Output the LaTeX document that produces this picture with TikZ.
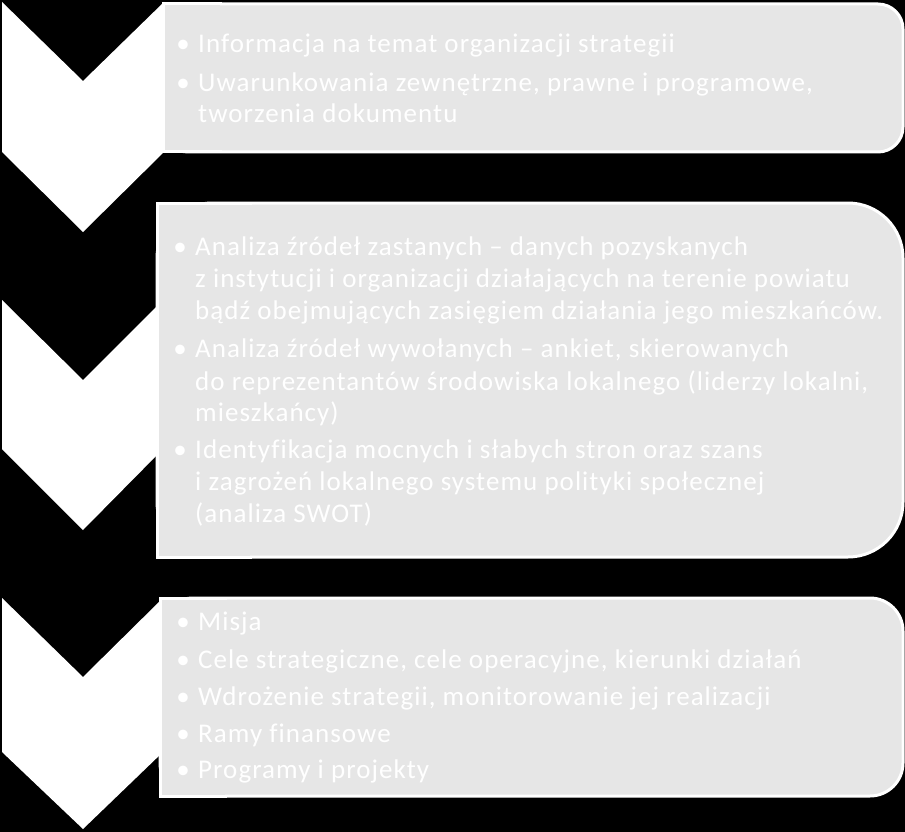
\documentclass[tikz,border=0pt]{standalone}
\usepackage{fontspec}
\setmainfont{Carlito}[LetterSpace=3.9, Ligatures=NoCommon]
\definecolor{boxgray}{HTML}{E6E6E6}
\tikzset{
  chev/.style={fill=white, draw=none},
  boxround/.style={fill=boxgray, draw=white, line width=3pt},
  boxleft/.style={fill=boxgray, draw=none},
  boxedge/.style={draw=white, line width=3pt},
  txt/.style={text=white, inner sep=0pt, anchor=base west, font=\fontsize{27}{31}\selectfont},
  bul/.style={text=white, inner sep=0pt, anchor=base, font=\fontsize{27}{31}\selectfont},
}
\begin{document}
\begin{tikzpicture}[x=1pt, y=-1pt]
\useasboundingbox (0,0) rectangle (905,832);
\fill[black] (0,0) rectangle (905,832);

% chevrons
\fill[chev] (2,2) -- (83,81) -- (164,2) -- (164,152) -- (83,232) -- (2,152) -- cycle;
\fill[chev] (2,300) -- (83,380) -- (163,300) -- (163,449) -- (83,530) -- (2,449) -- cycle;
\fill[chev] (2,598) -- (83,677) -- (163,598) -- (163,752) -- (83,829) -- (2,752) -- cycle;

% box 1
\draw[boxround, rounded corners=25pt] (163,4) rectangle (903,152);
\fill[boxleft] (163,4) rectangle (220,152);
\draw[boxedge] (222,4) -- (163,4) -- (163,152) -- (222,152);
% box 2
\draw[boxround, rounded corners=55pt] (157,203) rectangle (903,557);
\fill[boxleft] (157,203) rectangle (250,557);
\draw[boxedge] (252,203) -- (157,203) -- (157,557) -- (252,557);
% box 3
\draw[boxround, rounded corners=33pt] (160,598) rectangle (903,796);
\fill[boxleft] (160,598) rectangle (225,796);
\draw[boxedge] (227,598) -- (160,598) -- (160,796) -- (227,796);

% box 1 text
\node[bul] (b11) at (183,53) {•};
\node[txt] (t11) at (198,53) {Informacja na temat organizacji strategii};
\node[bul] (b12) at (183,92) {•};
\node[txt] (t12a) at (198,92) {Uwarunkowania zewnętrzne, prawne i programowe,};
\node[txt] (t12b) at (198,123) {tworzenia dokumentu};

% box 2 text
\node[bul] (b21) at (180,255) {•};
\node[txt] (t21a) at (195,255) {Analiza źródeł zastanych – danych pozyskanych};
\node[txt] (t21b) at (195,287) {z instytucji i organizacji działających na terenie powiatu};
\node[txt] (t21c) at (195,319) {bądź obejmujących zasięgiem działania jego mieszkańców.};
\node[bul] (b22) at (180,357) {•};
\node[txt] (t22a) at (195,357) {Analiza źródeł wywołanych – ankiet, skierowanych};
\node[txt] (t22b) at (195,390) {do reprezentantów środowiska lokalnego (liderzy lokalni,};
\node[txt] (t22c) at (195,421) {mieszkańcy)};
\node[bul] (b23) at (180,458) {•};
\node[txt] (t23a) at (195,458) {Identyfikacja mocnych i słabych stron oraz szans};
\node[txt] (t23b) at (195,490) {i zagrożeń lokalnego systemu polityki społecznej};
\node[txt] (t23c) at (195,522) {(analiza SWOT)};

% box 3 text
\node[bul] (b31) at (183,630) {•};
\node[txt] (t31) at (198,630) {Misja};
\node[bul] (b32) at (183,668) {•};
\node[txt] (t32) at (198,668) {Cele strategiczne, cele operacyjne, kierunki działań};
\node[bul] (b33) at (183,705) {•};
\node[txt] (t33) at (198,705) {Wdrożenie strategii, monitorowanie jej realizacji};
\node[bul] (b34) at (183,742) {•};
\node[txt] (t34) at (198,742) {Ramy finansowe};
\node[bul] (b35) at (183,778) {•};
\node[txt] (t35) at (198,778) {Programy i projekty};
\end{tikzpicture}
\end{document}
